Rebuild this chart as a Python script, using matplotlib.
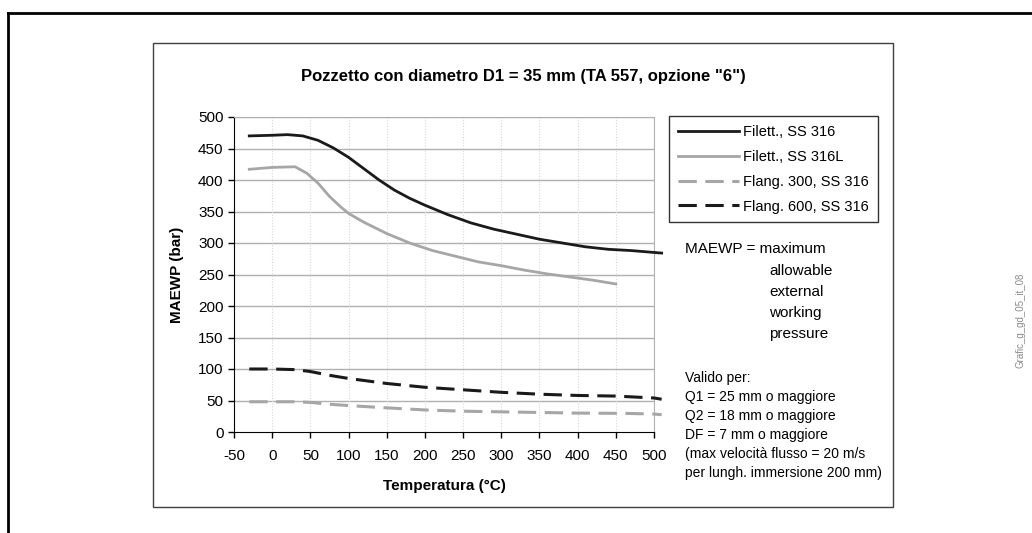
import matplotlib.pyplot as plt
from matplotlib.patches import Rectangle
from matplotlib.lines import Line2D

plt.rcParams['font.family'] = ['Liberation Sans', 'DejaVu Sans']
plt.rcParams['axes.unicode_minus'] = False

# data
t_316 = [-30, 0, 20, 40, 60, 80, 100, 120, 140, 160, 180, 200, 230, 260, 290, 320, 350, 380, 410, 440, 470, 510]
p_316 = [470, 471, 472, 470, 463, 451, 436, 418, 400, 384, 371, 360, 345, 332, 322, 314, 306, 300, 294, 290, 288, 284]

t_316l = [-30, 0, 30, 45, 60, 75, 90, 100, 120, 150, 180, 210, 240, 270, 300, 330, 360, 390, 420, 450]
p_316l = [417, 420, 421, 411, 395, 374, 357, 347, 333, 315, 300, 288, 279, 270, 264, 257, 251, 246, 241, 235]

t_300 = [-30, 0, 30, 50, 75, 100, 140, 200, 250, 300, 350, 400, 460, 500, 510]
p_300 = [48, 48, 48, 47, 44, 42, 39, 35, 33, 32, 31, 30, 29.6, 28.5, 27.5]

t_600 = [-30, 0, 30, 50, 75, 100, 150, 200, 250, 300, 350, 400, 450, 500, 510]
p_600 = [100, 100, 99, 96, 90, 85, 77, 71, 67, 63, 60, 58, 57, 54, 52]

labels = ["Filett., SS 316", "Filett., SS 316L", "Flang. 300, SS 316", "Flang. 600, SS 316"]

black = "#1a1a1a"
grey = "#a6a6a6"

fig = plt.figure(figsize=(10.32, 5.33), dpi=100)
W, H = 1032, 533

# outer frame lines
fig.add_artist(Line2D([8 / W, 1], [1 - 13 / H, 1 - 13 / H], color="black", lw=2))
fig.add_artist(Line2D([8 / W, 8 / W], [0, 1 - 13 / H], color="black", lw=2))
# chart area box
fig.add_artist(Rectangle((153 / W, 1 - 507 / H), (893 - 153) / W, (507 - 43) / H,
                         fill=False, edgecolor="#404040", lw=1))

ax = fig.add_axes([234 / W, 1 - 432 / H, 420 / W, 315 / H])

ax.plot(t_316, p_316, color=black, lw=2.0, clip_on=False, label=labels[0], zorder=3)
ax.plot(t_316l, p_316l, color=grey, lw=2.0, clip_on=False, label=labels[1], zorder=3)
ax.plot(t_300, p_300, color=grey, lw=2.2, dashes=(6, 2.8), clip_on=False, label=labels[2], zorder=3)
ax.plot(t_600, p_600, color=black, lw=2.2, dashes=(6, 2.8), clip_on=False, label=labels[3], zorder=3)

ax.set_xlim(-50, 500)
ax.set_ylim(0, 500)
ax.set_xticks(range(-50, 501, 50))
ax.set_yticks(range(0, 501, 50))
ax.tick_params(labelsize=11, length=4, direction="out", width=1, colors="black")
ax.tick_params(axis="x", pad=8)
ax.tick_params(top=False, right=False)

for y in range(50, 501, 50):
    ax.axhline(y, color="#b0b0b0", lw=1, zorder=1)
for x in range(0, 500, 50):
    ax.axvline(x, color="#d8d8d8", lw=0.8, ls=(0, (1, 1.5)), zorder=1)

ax.spines["left"].set_color("black")
ax.spines["bottom"].set_color("black")
ax.spines["top"].set_color("#b0b0b0")
ax.spines["right"].set_color("#b0b0b0")

ax.set_xlabel("Temperatura (°C)", fontsize=11, fontweight="bold", labelpad=12)
ax.set_ylabel("MAEWP (bar)", fontsize=11, fontweight="bold", labelpad=10)

fig.text(523 / W, 1 - 77 / H, 'Pozzetto con diametro D1 = 35 mm (TA 557, opzione "6")',
         ha="center", va="center", fontsize=12, fontweight="bold")

leg = ax.legend(loc="upper left", bbox_to_anchor=(669 / W, 1 - 116 / H),
                bbox_transform=fig.transFigure, frameon=True, fancybox=False,
                fontsize=10.5, handlelength=4.2, labelspacing=0.75,
                borderpad=0.6, handletextpad=0.3, borderaxespad=0)
leg.get_frame().set_edgecolor("black")
leg.get_frame().set_linewidth(1)

fig.text(685 / W, 1 - 249 / H, "MAEWP = maximum", fontsize=11, va="center")
for i, s in enumerate(["allowable", "external", "working", "pressure"]):
    fig.text(769 / W, 1 - (271 + i * 21) / H, s, fontsize=11, va="center")

notes = ["Valido per:", "Q1 = 25 mm o maggiore", "Q2 = 18 mm o maggiore",
         "DF = 7 mm o maggiore", "(max velocità flusso = 20 m/s",
         "per lungh. immersione 200 mm)"]
for i, s in enumerate(notes):
    fig.text(685 / W, 1 - (378 + i * 19) / H, s, fontsize=10, va="center")

fig.text(1020 / W, 1 - 320 / H, "Grafic_g_gd_05_it_08", rotation=90, fontsize=7,
         color="#8a8a8a", ha="center", va="center")

fig.savefig("out.png", dpi=100)
